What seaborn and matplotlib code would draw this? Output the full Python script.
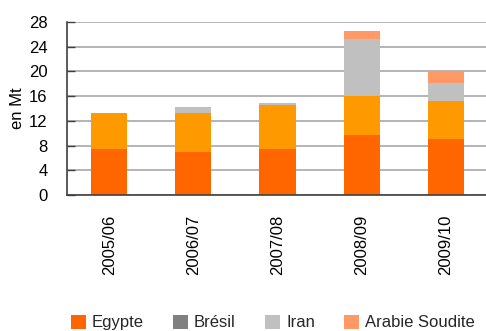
import numpy as np
import pandas as pd
import matplotlib
matplotlib.use("Agg")
import matplotlib.pyplot as plt
from matplotlib.patches import Patch
import seaborn as sns

# Campaign years and tonnage per origin (million tonnes)
campagnes = ["2005/06", "2006/07", "2007/08", "2008/09", "2009/10"]
egypte = [7.4, 7.0, 7.4, 9.7, 9.1]
autres = [5.8, 6.2, 7.1, 6.3, 6.1]
bresil = [0.0, 0.0, 0.0, 0.0, 0.0]
iran = [0.0, 1.0, 0.35, 9.2, 2.9]
arabie = [0.0, 0.0, 0.0, 1.3, 2.0]
y_ticks = [0, 4, 8, 12, 16, 20, 24, 28]

series = [
    ("Egypte", egypte, "#FF6600"),
    ("Autres", autres, "#FF9900"),
    ("Brésil", bresil, "#808080"),
    ("Iran", iran, "#C0C0C0"),
    ("Arabie Soudite", arabie, "#FF9966"),
]
legend_names = ["Egypte", "Brésil", "Iran", "Arabie Soudite"]

sns.set_theme(style="white")
plt.rcParams["font.family"] = ["Liberation Sans", "DejaVu Sans"]

fig = plt.figure(figsize=(4.86, 3.31), dpi=100)
ax = fig.add_axes([0.138, 0.411, 0.866, 0.5227])

# cumulative tops, drawn from the highest layer down so each bar stacks
df = pd.DataFrame({"campagne": campagnes})
cum = np.zeros(len(campagnes))
layers = []
for name, vals, color in series:
    cum = cum + np.array(vals)
    layers.append((name, cum.copy(), color))
for name, tops, color in reversed(layers):
    df["top"] = tops
    sns.barplot(data=df, x="campagne", y="top", color=color, width=0.43,
                saturation=1, linewidth=0, edgecolor="none", ax=ax, zorder=3)

ax.set_xlim(-0.5, 4.5)
ax.set_ylim(0, 28)
ax.set_yticks(y_ticks)
ax.yaxis.grid(True, color="#A8A8A8", linewidth=1.2, zorder=0)
ax.set_axisbelow(True)
for s in ["top", "right"]:
    ax.spines[s].set_visible(False)
for s in ["left", "bottom"]:
    ax.spines[s].set_color("#404040")
    ax.spines[s].set_linewidth(1.2)
    ax.spines[s].set_zorder(4)

ax.tick_params(axis="y", direction="in", length=6, width=1, color="#404040",
               pad=14, labelsize=12, labelcolor="black", left=True)
ax.tick_params(axis="x", length=0, pad=14, labelsize=12, labelrotation=90,
               labelcolor="black")
ax.set_xlabel("")
ax.set_ylabel("en Mt", fontsize=12, labelpad=3, color="black")

colors = {name: color for name, _, color in series}
handles = [Patch(facecolor=colors[n], edgecolor="none", label=n) for n in legend_names]
fig.legend(handles=handles, loc="upper left", bbox_to_anchor=(0.146, 0.049),
           ncol=4, frameon=False, fontsize=12, handlelength=0.9,
           handleheight=0.9, handletextpad=0.36, columnspacing=1.75,
           borderaxespad=0, borderpad=0)

fig.savefig("out.png", dpi=100)
